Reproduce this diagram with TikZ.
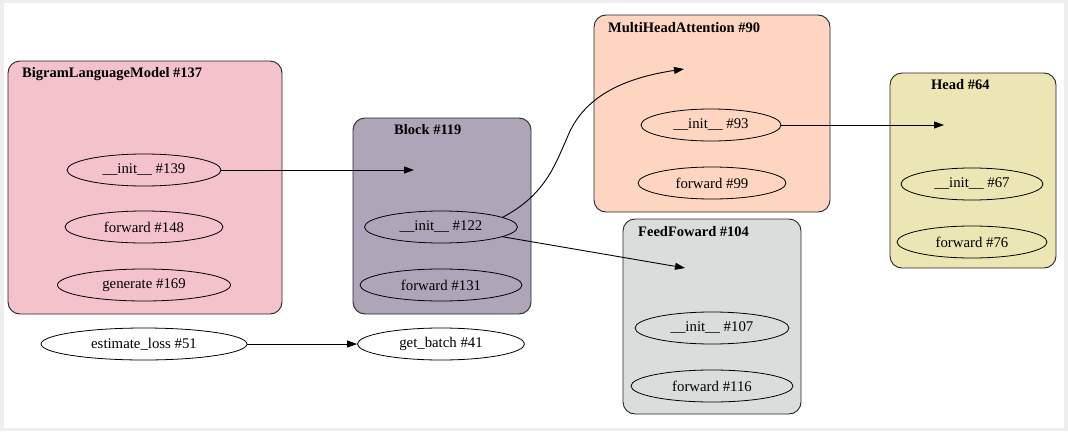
\documentclass[tikz,border=0pt]{standalone}
\usepackage{fontspec}
\setmainfont{Liberation Serif}
\usetikzlibrary{shapes.geometric,arrows.meta}
\definecolor{framegray}{HTML}{EEEEEE}
\definecolor{pinkc}{HTML}{F4C2CB}
\definecolor{blockc}{HTML}{AFA5B9}
\definecolor{mhac}{HTML}{FDD5C1}
\definecolor{ffc}{HTML}{D9DEDC}
\definecolor{headc}{HTML}{EBE6B3}
\tikzset{
  cluster/.style={draw=black!85, line width=0.9pt, rounded corners=12pt},
  ctitle/.style={anchor=base west, inner sep=0pt, font=\fontsize{14.5}{17}\selectfont\bfseries},
  fn/.style={ellipse, draw=black, line width=0.8pt, inner sep=0pt, font=\fontsize{14.8}{17}\selectfont},
  arr/.style={draw=black, line width=0.9pt, -{Triangle[length=10pt,width=7pt]}}
}
\begin{document}
\begin{tikzpicture}[x=1pt,y=-1pt]
\useasboundingbox (0,0) rectangle (1068,431);
\fill[framegray] (0,0) rectangle (1068,431);
\fill[white] (4,3) rectangle (1064,428);
% clusters
\filldraw[cluster, fill=pinkc] (8,61) rectangle (282,314);
\filldraw[cluster, fill=blockc] (353,118) rectangle (531,314);
\filldraw[cluster, fill=mhac] (594,15) rectangle (830,212);
\filldraw[cluster, fill=ffc] (623,219) rectangle (801,414);
\filldraw[cluster, fill=headc] (890,73) rectangle (1056,268);
\node[ctitle] (tblm) at (22,77) {BigramLanguageModel \#137};
\node[ctitle] (tblock) at (394,134) {Block \#119};
\node[ctitle] (tmha) at (608,32) {MultiHeadAttention \#90};
\node[ctitle] (tff) at (638,236) {FeedFoward \#104};
\node[ctitle] (thead) at (931,89) {Head \#64};
% function nodes
\node[fn, minimum width=154pt, minimum height=32pt] (i139) at (144,170) {\_\_init\_\_ \#139};
\node[fn, minimum width=158pt, minimum height=32pt] (f148) at (144,227) {forward \#148};
\node[fn, minimum width=173pt, minimum height=32pt] (g169) at (144,285) {generate \#169};
\node[fn, minimum width=153pt, minimum height=32pt] (i122) at (441,227) {\_\_init\_\_ \#122};
\node[fn, minimum width=162pt, minimum height=32pt] (f131) at (441,285) {forward \#131};
\node[fn, minimum width=140pt, minimum height=32pt] (i93) at (711,125) {\_\_init\_\_ \#93};
\node[fn, minimum width=148pt, minimum height=32pt] (f99) at (712,183) {forward \#99};
\node[fn, minimum width=154pt, minimum height=32pt] (i107) at (712,328) {\_\_init\_\_ \#107};
\node[fn, minimum width=162pt, minimum height=32pt] (f116) at (712,386) {forward \#116};
\node[fn, minimum width=142pt, minimum height=32pt] (i67) at (972,184) {\_\_init\_\_ \#67};
\node[fn, minimum width=150pt, minimum height=32pt] (f76) at (972,242) {forward \#76};
\node[fn, minimum width=206pt, minimum height=32pt] (est) at (144,344) {estimate\_loss \#51};
\node[fn, minimum width=167pt, minimum height=32pt] (gb) at (441,344) {get\_batch \#41};
% cluster entry points
\coordinate (blockin) at (414,170);
\coordinate (mhain) at (684,69);
\coordinate (ffin) at (685,268);
\coordinate (headin) at (944,125);
% edges
\draw[arr] (i139.east) -- (blockin);
\draw[arr] (i122.9) .. controls (545,195) and (555,165) .. (567,138) .. controls (580,105) and (610,80) .. (mhain);
\draw[arr] (i122.-9) -- (ffin);
\draw[arr] (i93.east) -- (headin);
\draw[arr] (est.east) -- (gb.west);
\end{tikzpicture}
\end{document}
